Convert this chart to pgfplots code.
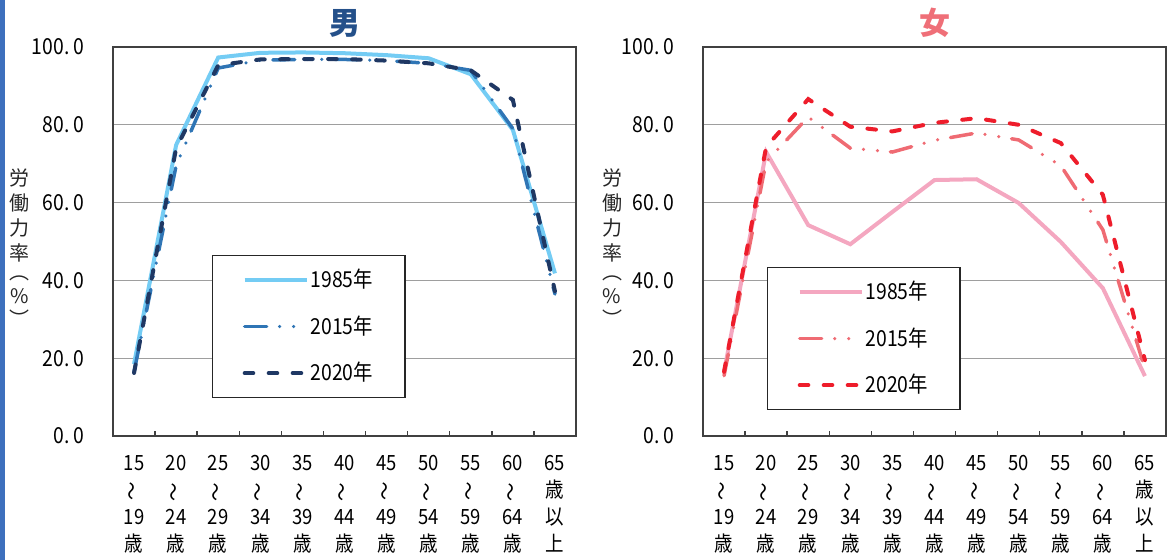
\documentclass[border=0pt]{standalone}
\usepackage{fontspec}
\setmainfont{Noto Sans CJK JP}
\newfontfamily\nf[FakeStretch=0.88]{Noto Sans CJK JP}
\usepackage{pgfplots}
\pgfplotsset{compat=1.18}

\definecolor{mA}{HTML}{74CCF4}
\definecolor{mB}{HTML}{2F75B5}
\definecolor{mC}{HTML}{1F3864}
\definecolor{fA}{HTML}{F4A7C0}
\definecolor{fB}{HTML}{EF6B73}
\definecolor{fC}{HTML}{EE1D2B}
\definecolor{tM}{HTML}{24508A}
\definecolor{tF}{HTML}{EF6F78}
\definecolor{strip}{HTML}{3D70BD}

\newcommand\w{\rotatebox[origin=c]{90}{〜}}

\pgfplotsset{
  chart/.style={
    scale only axis, width=231.5pt, height=194.5pt,
    xmin=-0.5, xmax=10.5, ymin=0, ymax=100,
    xtick={0,...,10},
    xticklabels={{15\\\w\\19\\歳},{20\\\w\\24\\歳},{25\\\w\\29\\歳},{30\\\w\\34\\歳},{35\\\w\\39\\歳},{40\\\w\\44\\歳},{45\\\w\\49\\歳},{50\\\w\\54\\歳},{55\\\w\\59\\歳},{60\\\w\\64\\歳},{65\\歳\\以\\上}},
    minor xtick={-0.5,0.5,...,10.5},
    major tick length=0pt, minor tick length=2.5pt,
    xtick align=inside, xtick pos=bottom, ytick pos=left,
    ytick={0,20,40,60,80,100},
    yticklabels={{0.\,0},{20.\,0},{40.\,0},{60.\,0},{80.\,0},{100.\,0}},
    yticklabel style={font=\nf\fontsize{11}{13}\selectfont, xshift=-11pt},
    xticklabel style={align=center, font=\nf\fontsize{10.5}{13.5}\selectfont, yshift=-6pt},
    ymajorgrids, grid style={color=black!38, line width=0.6pt},
    axis line style={color=black!75, line width=0.7pt},
    minor tick style={color=black!75, line width=0.7pt},
    title style={anchor=center, at={(0.5,1)}, yshift=6pt, font=\bfseries\fontsize{15.5}{17}\selectfont},
    legend cell align=left,
    legend image code/.code={\draw[##1] (0pt,0pt) -- (31pt,0pt);},
    legend style={anchor=north west, draw=black!85, line width=0.6pt,
      font=\nf\fontsize{11}{13}\selectfont, row sep=8.5pt, inner xsep=15pt, inner ysep=4.75pt,
      nodes={inner xsep=1pt}},
  },
  sA/.style={line width=2pt},
  sB/.style={line width=1.75pt, line cap=round, dash pattern=on 11pt off 6.5pt on 0pt off 7pt on 0pt off 6.5pt},
  sC/.style={line width=2pt, line cap=round, dash pattern=on 4.3pt off 7.7pt},
}

\begin{document}
\begin{tikzpicture}
\path[use as bounding box] (0,0) rectangle (584pt,280pt);
\fill[strip] (0,0) rectangle (2.6pt,280pt);

% 男
\begin{axis}[chart, at={(56.5pt,62pt)}, anchor=south west,
  title={男}, title style={text=tM},
  legend style={at={(0.214,0.465)}}]
\addplot[sA, mA] coordinates {(0,18.5) (1,74.8) (2,97.3) (3,98.5) (4,98.6) (5,98.4) (6,97.9) (7,97.1) (8,93.0) (9,78.7) (10,41.8)};
\addplot[sB, mB] coordinates {(0,16.5) (1,69.5) (2,94.6) (3,96.6) (4,96.8) (5,96.8) (6,96.5) (7,95.8) (8,94.0) (9,79.0) (10,36.5)};
\addplot[sC, mC] coordinates {(0,16.2) (1,74.0) (2,95.3) (3,96.8) (4,96.9) (5,96.9) (6,96.5) (7,95.8) (8,94.0) (9,86.4) (10,37.2)};
\legend{1985年,2015年,2020年}
\end{axis}

% 女
\begin{axis}[chart, at={(351.5pt,62pt)}, anchor=south west,
  title={女}, title style={text=tF},
  legend style={at={(0.1385,0.434)}}]
\addplot[sA, fA] coordinates {(0,16.5) (1,73.0) (2,54.2) (3,49.3) (4,57.6) (5,65.8) (6,66.0) (7,59.9) (8,49.9) (9,38.0) (10,15.4)};
\addplot[sB, fB] coordinates {(0,15.5) (1,70.5) (2,82.0) (3,74.0) (4,73.0) (5,76.0) (6,77.9) (7,76.1) (8,69.5) (9,53.0) (10,17.2)};
\addplot[sC, fC] coordinates {(0,16.5) (1,74.3) (2,86.6) (3,79.5) (4,78.3) (5,80.5) (6,81.7) (7,80.0) (8,75.3) (9,62.0) (10,19.5)};
\legend{1985年,2015年,2020年}
\end{axis}

\foreach \xx in {10pt,306pt}
  \node[align=center, font=\fontsize{10}{12.5}\selectfont, text=black!85] at (\xx,156pt)
    {労\\働\\力\\率\\[-3pt]︵\\[-0.5pt]\%\\[-1pt]︶};
\end{tikzpicture}
\end{document}
